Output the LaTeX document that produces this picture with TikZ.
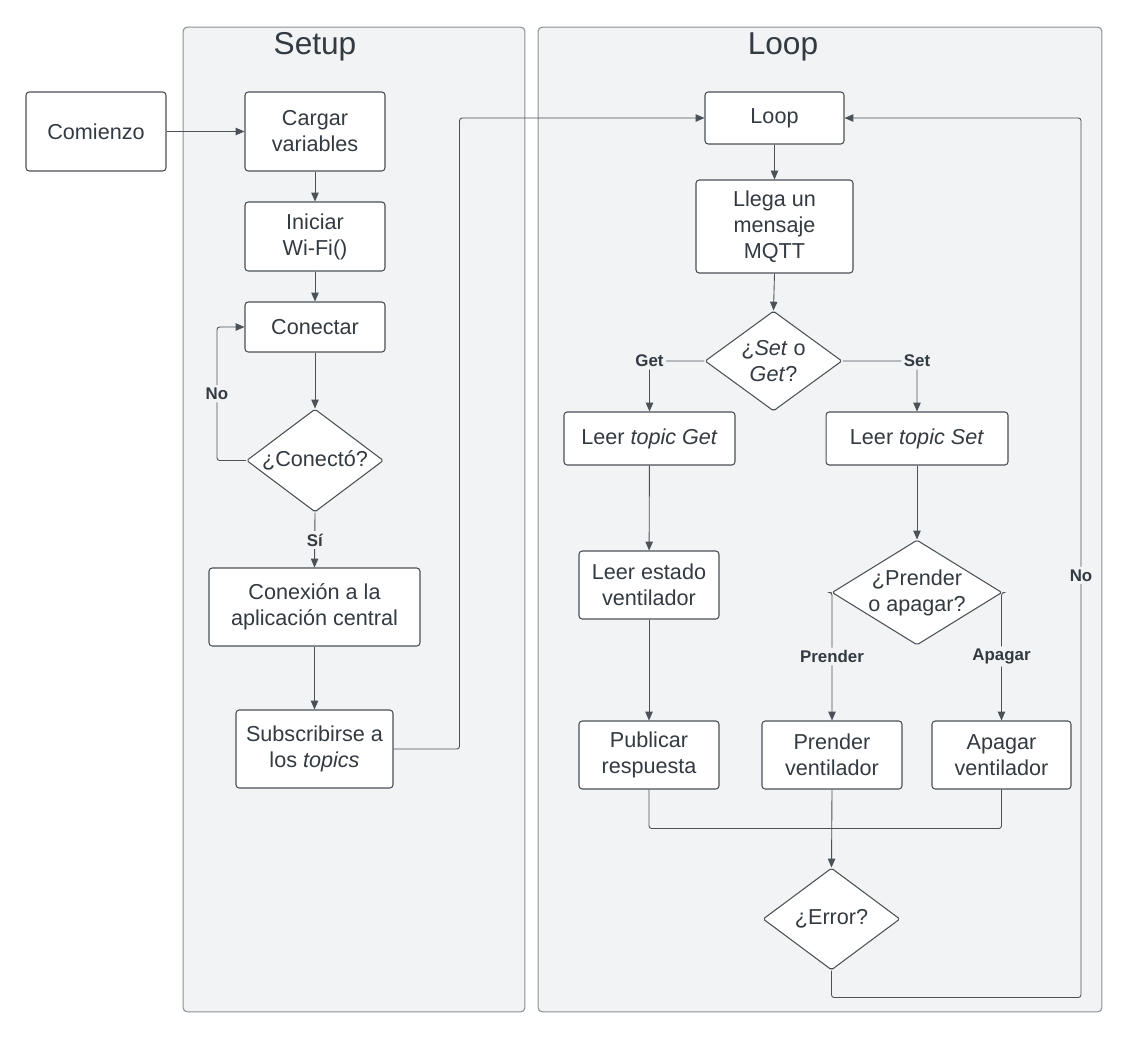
\documentclass[tikz,border=0pt]{standalone}
\usepackage{fontspec}
\setmainfont{Liberation Sans}
\usetikzlibrary{shapes.geometric,arrows.meta}
\definecolor{lanegray}{HTML}{F1F3F5}
\definecolor{laneline}{HTML}{8C9096}
\definecolor{ink}{HTML}{333A41}
\definecolor{edgegray}{HTML}{4B5157}
\tikzset{
        lane/.style={draw=laneline, fill=lanegray, rounded corners=2.5pt, line width=0.6pt, inner sep=0pt},
        lanetitle/.style={text=ink, inner sep=0pt, font=\fontsize{18}{21}\selectfont},
        process/.style={draw=edgegray, fill=white, rounded corners=1.8pt, line width=0.6pt, text=ink, align=center, inner sep=0pt, font=\fontsize{12.3}{14.8}\selectfont},
        decision/.style={draw=edgegray, fill=white, diamond, rounded corners=1pt, line width=0.6pt, inner sep=0pt},
        dtext/.style={text=ink, align=center, inner sep=0pt, font=\fontsize{12.3}{14.8}\selectfont},
        flow/.style={draw=edgegray, line width=0.5pt, rounded corners=1.5pt},
        arrowflow/.style={flow, -{Triangle[length=5pt,width=4.2pt]}},
        lbl/.style={fill=lanegray, text=ink, inner sep=1.5pt, font=\fontsize{9.6}{11}\selectfont\bfseries}
          }
\begin{document}
\begin{tikzpicture}[x=0.02cm, y=-0.02cm]
        \useasboundingbox[fill=white] (0,0) rectangle (1129,1038);
        \node[lane, minimum width=6.84cm, minimum height=19.7cm] (lsetup) at (354,519.5) {};
        \node[lane, minimum width=11.28cm, minimum height=19.7cm] (lloop) at (820,519.5) {};
        \node[lanetitle] (tsetup) at (315,47) {Setup};
        \node[lanetitle] (tloop) at (783,47) {Loop};

        \node[process, minimum width=2.8cm, minimum height=1.58cm] (comienzo) at (96,131.5) {Comienzo};
        \node[process, minimum width=2.8cm, minimum height=1.58cm] (cargar) at (315,131.5) {Cargar\\variables};
        \node[process, minimum width=2.8cm, minimum height=1.38cm] (wifi) at (315,236.5) {Iniciar\\Wi-Fi()};
        \node[process, minimum width=2.8cm, minimum height=1.0cm] (conectar) at (315,327) {Conectar};
        \node[decision, minimum width=2.74cm, minimum height=2.06cm, label={[dtext]center:{¿Conectó?}}] (conecto) at (315,460.5) {};
        \node[process, minimum width=4.22cm, minimum height=1.56cm] (conexion) at (314.5,607) {Conexión a la\\aplicación central};
        \node[process, minimum width=3.14cm, minimum height=1.56cm] (subs) at (314.5,749) {Subscribirse a\\los \textit{topics}};

        \node[process, minimum width=2.78cm, minimum height=1.04cm] (loopbox) at (774.5,118) {Loop};
        \node[process, minimum width=3.14cm, minimum height=1.86cm] (mqtt) at (774.5,226.5) {Llega un\\mensaje\\MQTT};
        \node[decision, minimum width=2.74cm, minimum height=2.0cm, label={[dtext]center:{¿\textit{Set} o\\\textit{Get}?}}] (setget) at (773.5,361) {};
        \node[process, minimum width=3.42cm, minimum height=1.06cm] (leerget) at (649.5,438.5) {Leer \textit{topic Get}};
        \node[process, minimum width=3.64cm, minimum height=1.06cm] (leerset) at (917,438.5) {Leer \textit{topic Set}};
        \node[process, minimum width=2.8cm, minimum height=1.36cm] (estado) at (649,585) {Leer estado\\ventilador};
        \node[decision, minimum width=3.4cm, minimum height=2.1cm, label={[dtext]center:{¿Prender\\o apagar?}}] (dprender) at (917,592.5) {};
        \node[process, minimum width=2.8cm, minimum height=1.36cm] (publicar) at (649,755) {Publicar\\respuesta};
        \node[process, minimum width=2.8cm, minimum height=1.36cm] (prender) at (832,755) {Prender\\ventilador};
        \node[process, minimum width=2.78cm, minimum height=1.36cm] (apagar) at (1001.5,755) {Apagar\\ventilador};
        \node[decision, minimum width=2.74cm, minimum height=2.04cm, label={[dtext]center:{¿Error?}}] (error) at (831.5,919) {};
        \coordinate (cturn) at (1081,118);

        \draw[arrowflow] (comienzo) -- (cargar);
        \draw[arrowflow] (cargar) -- (wifi);
        \draw[arrowflow] (wifi) -- (conectar);
        \draw[arrowflow] (conectar) -- (conecto);
        \draw[arrowflow] (conecto.west) -- ++(-29,0) |- (conectar.west) node[lbl, pos=0.25] (lno1) {No};
        \draw[arrowflow] (conecto.south) -- (conexion.north) node[lbl, midway] (lsi) {Sí};
        \draw[arrowflow] (conexion) -- (subs);
        \draw[arrowflow] (subs.east) -- ++(66,0) |- (loopbox.west);

        \draw[arrowflow] (loopbox) -- (mqtt);
        \draw[arrowflow] (mqtt.south) -- (setget.north);
        \draw[arrowflow] (setget.west) -| (leerget.north) node[lbl, pos=0.5] (lget) {Get};
        \draw[arrowflow] (setget.east) -| (leerset.north) node[lbl, pos=0.5] (lset) {Set};
        \draw[arrowflow] (leerget) -- (estado);
        \draw[arrowflow] (estado) -- (publicar);
        \draw[arrowflow] (leerset.south) -- (dprender.north);
        \draw[arrowflow] (dprender.west) -| (prender.north) node[lbl, pos=0.75] (lprender) {Prender};
        \draw[arrowflow] (dprender.east) -| (apagar.north) node[lbl, pos=0.75] (lapagar) {Apagar};
        \draw[flow] (publicar.south) -- ++(0,39) -| (apagar.south);
        \draw[arrowflow] (prender.south) -- (error.north);
        \draw[arrowflow] (error.south) -- ++(0,27) -| (cturn) node[lbl, pos=0.74] (lno2) {No} -- (loopbox.east);
      \end{tikzpicture}
\end{document}
